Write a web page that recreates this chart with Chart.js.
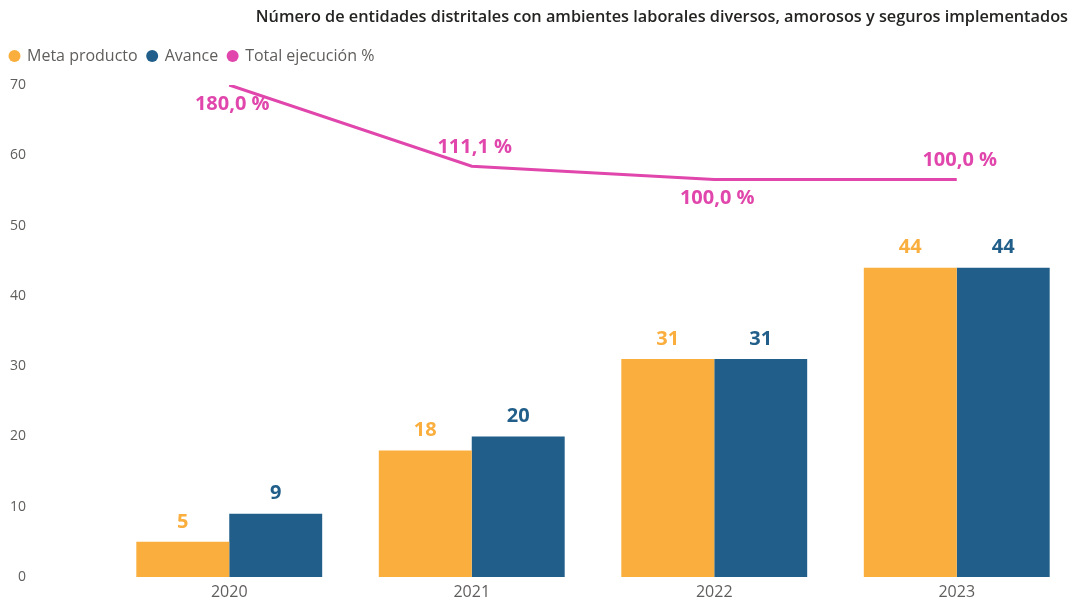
<!DOCTYPE html>
<html><head><meta charset="utf-8">
<script src="https://cdn.jsdelivr.net/npm/chart.js@4.4.1/dist/chart.umd.min.js"></script>
<style>
html,body{margin:0;padding:0;background:#fff;overflow:hidden;width:1073px;height:602px}
#wrap{position:relative;width:1080px;height:602px}
</style></head>
<body><div id="wrap"><canvas id="c"></canvas></div>
<script>
const titleText = 'Número de entidades distritales con ambientes laborales diversos, amorosos y seguros implementados';
const categories = ['2020', '2021', '2022', '2023'];
const metaProducto = [5, 18, 31, 44];
const avance = [9, 20, 31, 44];
const totalEjecucion = [180.0, 111.1, 100.0, 100.0];
const yTicks = [0, 10, 20, 30, 40, 50, 60, 70];
const lineLabelPlacement = ['below', 'above', 'below', 'above'];

const ORANGE = '#F9AE3D', BLUE = '#215F8A', PINK = '#E046AB', GREY = '#605E5C';
const FONT = '"Open Sans", "Noto Sans", sans-serif';
const fmtPct = v => v.toFixed(1).replace('.', ',') + ' %';

const labelPlugin = {
  id: 'dataLabels',
  afterDatasetsDraw(chart) {
    const ctx = chart.ctx;
    ctx.save();
    ctx.font = 'bold 20px ' + FONT;
    ctx.textAlign = 'center';
    ctx.textBaseline = 'middle';
    chart.data.datasets.forEach((ds, i) => {
      const meta = chart.getDatasetMeta(i);
      meta.data.forEach((el, j) => {
        ctx.fillStyle = ds.labelColor;
        if (ds.type === 'line') {
          const dy = lineLabelPlacement[j] === 'below' ? 19 : -19;
          ctx.fillText(fmtPct(ds.data[j]), el.x + 3, el.y + dy);
        } else {
          ctx.fillText(String(ds.data[j]), el.x, el.y - 20);
        }
      });
    });
    ctx.restore();
  }
};

const titlePlugin = {
  id: 'topTitle',
  afterInit(chart) {
    const lg = chart.legend;
    if (lg) {
      const f = lg.fit.bind(lg);
      lg.fit = function () { f(); this.height += 11; };
    }
  },
  afterDraw(chart) {
    const ctx = chart.ctx;
    ctx.save();
    ctx.font = '600 16.3px ' + FONT;
    ctx.fillStyle = '#252423';
    ctx.textAlign = 'right';
    ctx.textBaseline = 'middle';
    ctx.fillText(titleText, 1068, 17);
    ctx.restore();
  }
};

new Chart(document.getElementById('c'), {
  data: {
    labels: categories,
    datasets: [
      { type: 'bar', label: 'Meta producto', data: metaProducto, backgroundColor: ORANGE, labelColor: ORANGE, borderWidth: 0, order: 1, yAxisID: 'y' },
      { type: 'bar', label: 'Avance', data: avance, backgroundColor: BLUE, labelColor: BLUE, borderWidth: 0, order: 1, yAxisID: 'y' },
      { type: 'line', label: 'Total ejecución %', data: totalEjecucion, borderColor: PINK, backgroundColor: PINK, labelColor: PINK, borderWidth: 3, pointRadius: 0, tension: 0, order: 0, yAxisID: 'y2' }
    ]
  },
  options: {
    responsive: true,
    maintainAspectRatio: false,
    devicePixelRatio: 1,
    animation: false,
    layout: { padding: { left: 0, right: 2, top: 38, bottom: 0 } },
    datasets: { bar: { categoryPercentage: 0.7665, barPercentage: 1.0 } },
    plugins: {
      tooltip: { enabled: false },
      legend: {
        position: 'top', align: 'start',
        labels: {
          usePointStyle: true, pointStyle: 'circle', boxWidth: 9, boxHeight: 8.5,
          padding: 10, color: GREY, font: { family: FONT, size: 16 },
          sort: (a, b) => a.datasetIndex - b.datasetIndex,
          generateLabels(chart) {
            const items = Chart.defaults.plugins.legend.labels.generateLabels(chart);
            items.forEach(it => { it.lineWidth = 0; it.strokeStyle = it.fillStyle; it.pointStyle = 'circle'; });
            return items;
          }
        }
      }
    },
    scales: {
      x: {
        grid: { display: false, drawTicks: false }, border: { display: false },
        afterFit: s => { s.height = 25; },
        ticks: { color: GREY, font: { family: FONT, size: 16 }, padding: 6 }
      },
      y: {
        min: 0, max: 70,
        grid: { display: false, drawTicks: false }, border: { display: false },
        afterBuildTicks: s => { s.ticks = yTicks.map(v => ({ value: v })); },
        afterFit: s => { s.width = 108; s.paddingTop = 0; s.paddingBottom = 0; },
        ticks: { color: GREY, font: { family: FONT, size: 14 }, padding: 82 }
      },
      y2: { display: false, min: -237, max: 180 }
    }
  },
  plugins: [labelPlugin, titlePlugin]
});
</script>
</body></html>
